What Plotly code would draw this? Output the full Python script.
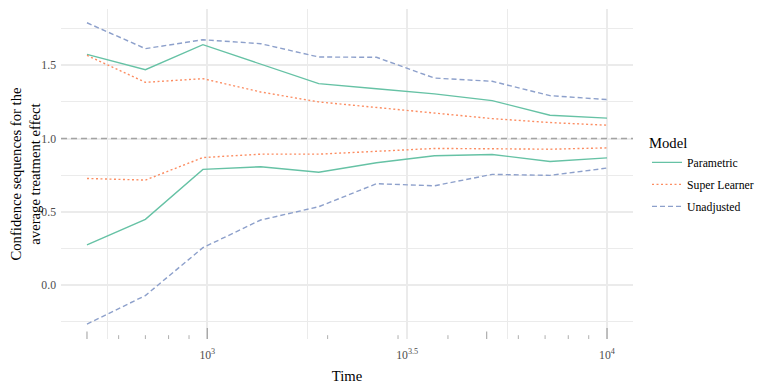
import math
import plotly.graph_objects as go

# ---- data ----
time = [500, 700, 975, 1360, 1900, 2650, 3700, 5160, 7200, 10000]

param_upper = [1.575, 1.470, 1.641, 1.511, 1.375, 1.340, 1.305, 1.259, 1.159, 1.139]
param_lower = [0.273, 0.448, 0.789, 0.807, 0.770, 0.834, 0.882, 0.891, 0.843, 0.868]

sl_upper = [1.568, 1.384, 1.409, 1.318, 1.250, 1.213, 1.177, 1.136, 1.109, 1.091]
sl_lower = [0.727, 0.716, 0.870, 0.893, 0.893, 0.914, 0.932, 0.930, 0.927, 0.936]

un_upper = [1.791, 1.614, 1.675, 1.648, 1.557, 1.555, 1.413, 1.391, 1.293, 1.266]
un_lower = [-0.268, -0.073, 0.254, 0.443, 0.534, 0.691, 0.677, 0.755, 0.748, 0.798]

models = ["Parametric", "Super Learner", "Unadjusted"]
colors = ["#66C2A5", "#FC8D62", "#8DA0CB"]
dashes = ["solid", "2px,2.5px", "5px,3px"]

x_tickvals = [1000, 3162.2777, 10000]
x_ticktext = ["10<sup>3</sup>", "10<sup>3.5</sup>", "10<sup>4</sup>"]
x_minor = [562.34, 1778.28, 5623.41]
y_tickvals = [0.0, 0.5, 1.0, 1.5]
y_ticktext = ["0.0", "0.5", "1.0", "1.5"]
y_minor = [-0.25, 0.25, 0.75, 1.25, 1.75]

logticks = [500, 600, 700, 800, 900, 1000, 2000, 3000, 4000, 5000,
            6000, 7000, 8000, 9000, 10000]

ref_line = 1.0

# ---- figure ----
fig = go.Figure()
series = [(param_upper, param_lower), (sl_upper, sl_lower), (un_upper, un_lower)]
for name, col, dash, (up, lo) in zip(models, colors, dashes, series):
    fig.add_trace(go.Scatter(
        x=time + [None] + time, y=up + [None] + lo,
        mode="lines", name=name, legendgroup=name,
        line=dict(color=col, width=1.4, dash=dash),
        connectgaps=False,
    ))

fig.add_shape(type="line", xref="paper", yref="y", x0=0, x1=1,
              y0=ref_line, y1=ref_line,
              line=dict(color="#a3a3a3", width=1.4, dash="6px,4px"), layer="above")

for v in logticks:
    lg = math.log10(v)
    if abs(lg - round(lg)) < 1e-9:
        ln, w = 11, 1.3
    elif str(v)[0] == "5":
        ln, w = 7.5, 1.1
    else:
        ln, w = 3.8, 0.9
    fig.add_shape(type="line", xref="x", yref="paper", ysizemode="pixel",
                  yanchor=0, x0=v, x1=v, y0=0, y1=ln,
                  line=dict(color="#a6a6a6", width=w))

grid = "#EBEBEB"
FONT = "Liberation Serif, Times New Roman, serif"
fig.update_layout(
    width=768, height=384,
    margin=dict(l=53, r=143, t=1, b=53),
    paper_bgcolor="white", plot_bgcolor="white",
    font=dict(family=FONT, size=11.73, color="black"),
    xaxis=dict(
        type="log", range=[math.log10(500) - 0.065, 4.065],
        tickvals=x_tickvals, ticktext=x_ticktext,
        showgrid=True, gridcolor=grid, gridwidth=1.6,
        zeroline=False, showline=False, ticks="",
        tickfont=dict(size=11.73, color="#4D4D4D"),
        ticklabelstandoff=7, automargin=False,
        minor=dict(tickvals=x_minor, showgrid=True, gridcolor=grid, gridwidth=0.8),
        title=dict(text="Time", font=dict(size=14.67, color="black"), standoff=10),
    ),
    yaxis=dict(
        range=[-0.37, 1.885],
        tickvals=y_tickvals, ticktext=y_ticktext,
        showgrid=True, gridcolor=grid, gridwidth=1.6,
        zeroline=False, showline=False, ticks="",
        tickfont=dict(size=11.73, color="#4D4D4D"),
        ticklabelstandoff=4, automargin=False,
        minor=dict(tickvals=y_minor, showgrid=True, gridcolor=grid, gridwidth=0.8),
        title=dict(text="Confidence sequences for the<br>average treatment effect",
                   font=dict(size=14.67, color="black"), standoff=2),
    ),
    legend=dict(
        title=dict(text="Model", font=dict(size=14.67)),
        x=1.0245, xanchor="left", y=0.496, yanchor="middle",
        itemwidth=30, font=dict(size=11.73), tracegroupgap=3,
        bgcolor="rgba(0,0,0,0)",
    ),
    showlegend=True,
)

fig.write_html("out.html")
